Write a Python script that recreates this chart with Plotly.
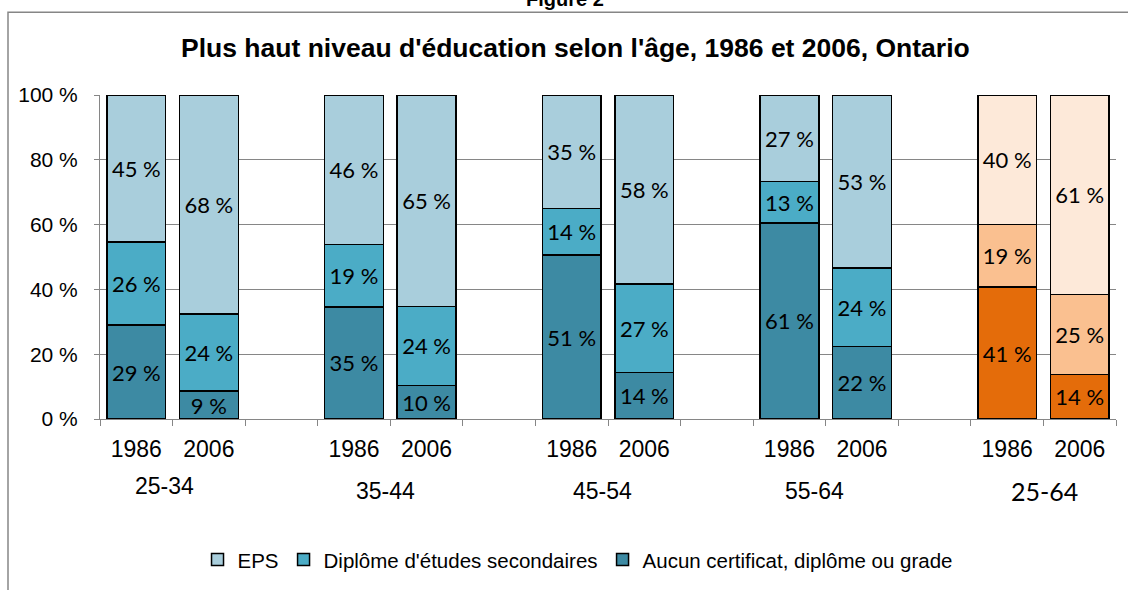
import plotly.graph_objects as go

groups = ["25-34", "35-44", "45-54", "55-64", "25-64"]
years = ["1986", "2006"]
# values per bar, order: (25-34 1986, 25-34 2006, 35-44 1986, ...)
aucun = [29.0, 8.6, 34.6, 10.4, 50.6, 14.4, 60.5, 22.4, 40.7, 13.7]
secondaire = [25.6, 23.8, 19.2, 24.4, 14.3, 27.2, 12.8, 24.2, 19.3, 24.8]
eps = [45.4, 67.6, 46.2, 65.2, 35.1, 58.4, 26.7, 53.4, 40.0, 61.4]
series_names = ["Aucun certificat, diplôme ou grade", "Diplôme d'études secondaires", "EPS"]
y_ticks = [0, 20, 40, 60, 80, 100]

title = "Plus haut niveau d'éducation selon l'âge, 1986 et 2006, Ontario"
fig_label = "Figure 2"

blue = ["#3D8AA3", "#4BACC6", "#A9CEDC"]
orange = ["#E46C0A", "#FAC090", "#FDE9D9"]

W, H = 1128, 590
ML, MR, MT, MB = 100, 12, 95, 170

xpos = [3 * g + j for g in range(len(groups)) for j in range(len(years))]
n_blue = 8

fig = go.Figure()
label_font = dict(family="Lato, Carlito, Calibri, sans-serif", size=22, color="black")
for k, (name, vals) in enumerate(zip(series_names, [aucun, secondaire, eps])):
    fig.add_trace(go.Bar(
        x=xpos[:n_blue], y=vals[:n_blue], name=name,
        marker=dict(color=blue[k], line=dict(color="black", width=1.5)),
        width=0.81, texttemplate="%{y:.0f} %", textposition="inside",
        insidetextanchor="middle", textfont=label_font, textangle=0,
        legendrank=3 - k, hoverinfo="skip",
    ))
    fig.add_trace(go.Bar(
        x=xpos[n_blue:], y=vals[n_blue:], name=name, showlegend=False,
        marker=dict(color=orange[k], line=dict(color="black", width=1.5)),
        width=0.81, texttemplate="%{y:.0f} %", textposition="inside",
        insidetextanchor="middle", textfont=label_font, textangle=0,
        hoverinfo="skip",
    ))

arial = "Liberation Sans, Arial, sans-serif"
fig.update_layout(
    width=W, height=H, barmode="stack",
    margin=dict(l=ML, r=MR, t=MT, b=MB),
    paper_bgcolor="white", plot_bgcolor="white",
    uniformtext=dict(minsize=22, mode="show"),
    font=dict(family=arial, color="black"),
    xaxis=dict(
        range=[-0.5, 13.5], tickvals=xpos, ticktext=[years[i % 2] for i in range(len(xpos))],
        ticks="", showgrid=False, showline=True, linecolor="#868686", linewidth=1,
        tickfont=dict(family=arial, size=23), ticklabelstandoff=9, automargin=False,
        minor=dict(tickmode="linear", tick0=-0.5, dtick=1, ticks="outside", ticklen=6,
                   tickcolor="#868686", showgrid=False),
        zeroline=False,
    ),
    yaxis=dict(
        range=[0, 100], tickvals=y_ticks, ticktext=[f"{v} %" for v in y_ticks],
        showgrid=True, gridcolor="#868686", gridwidth=1, showline=True,
        linecolor="#868686", ticks="outside", ticklen=5, tickcolor="#868686",
        tickfont=dict(family=arial, size=21), zeroline=False, automargin=False,
        ticklabelstandoff=12,
    ),
    legend=dict(orientation="h", x=0.47, xanchor="center", y=-0.43, yanchor="middle",
                font=dict(family=arial, size=20.5), traceorder="normal"),
)

ph = H - MT - MB
pw = W - ML - MR
def py(pix):
    return (H - MB - pix) / ph
def px(pix):
    return (pix - ML) / pw

shifts = [-8, -5, -6, -11, 1]
ypix = [487, 492, 492, 492, 492]
for g, name in enumerate(groups):
    big = g == len(groups) - 1
    fig.add_annotation(
        x=3 * g + 0.5, xref="x", y=py(ypix[g]), yref="paper", text=name, showarrow=False,
        xshift=shifts[g], yanchor="middle",
        font=dict(family=("Lato, Carlito, sans-serif" if big else arial), size=(25 if big else 23), color="black"),
    )

fig.add_annotation(x=px(575), xref="paper", y=py(48), yref="paper", text="<b>" + title + "</b>",
                   showarrow=False, font=dict(family=arial, size=26.5, color="black"), yanchor="middle")
fig.add_annotation(x=px(565), xref="paper", y=py(-1), yref="paper", text="<b>" + fig_label + "</b>",
                   showarrow=False, font=dict(family=arial, size=20, color="black"), yanchor="middle")

fig.add_shape(type="rect", xref="paper", yref="paper", x0=px(8), x1=px(1140), y0=py(12), y1=py(600),
              line=dict(color="#868686", width=1.5), fillcolor="rgba(0,0,0,0)", layer="below")

fig.write_html("out.html", config={"displayModeBar": False},
               post_script="document.body.style.margin='0';")
